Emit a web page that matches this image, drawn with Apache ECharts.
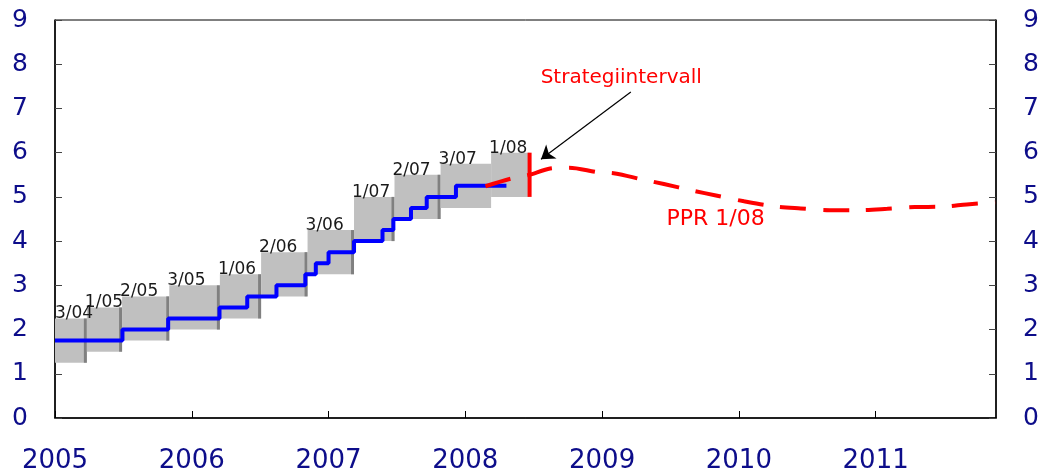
<!DOCTYPE html>
<html>
<head>
<meta charset="utf-8">
<script src="https://cdn.jsdelivr.net/npm/echarts@6/dist/echarts.min.js"></script>
<style>
  html, body { margin: 0; padding: 0; background: #fff; }
  #rateChart { width: 1040px; height: 469px; }
</style>
</head>
<body>
<div id="rateChart"></div>
<script>
// strategiintervaller fra hver pengepolitisk rapport
const boxLabels = ['3/04', '1/05', '2/05', '3/05', '1/06', '2/06', '3/06', '1/07', '2/07', '3/07', '1/08'];
const boxFrom = ['2004-11-01', '2005-03-27', '2005-06-29', '2005-11-02', '2006-03-17', '2006-07-05',
  '2006-11-06', '2007-03-10', '2007-06-26', '2007-10-27', '2008-03-10'];
const boxTo = ['2005-03-27', '2005-06-29', '2005-11-02', '2006-03-17', '2006-07-05', '2006-11-06',
  '2007-03-10', '2007-06-26', '2007-10-27', '2008-03-10', '2008-06-21'];
const boxLow = [1.25, 1.5, 1.75, 2.0, 2.25, 2.75, 3.25, 4.0, 4.5, 4.75, 5.0];
const boxHigh = [2.25, 2.5, 2.75, 3.0, 3.25, 3.75, 4.25, 5.0, 5.5, 5.75, 6.0];
const boxEdge = [1, 1, 1, 1, 1, 1, 1, 1, 1, 0, 0];

// styringsrenten (trappetrinn)
const rateDates = ['2005-01-01', '2005-06-30', '2005-10-30', '2006-03-16', '2006-05-29', '2006-08-15',
  '2006-10-31', '2006-11-28', '2007-01-01', '2007-03-10', '2007-05-25', '2007-06-23', '2007-08-09',
  '2007-09-20', '2007-12-07', '2008-04-20'];
const rateValues = [1.75, 2.0, 2.25, 2.5, 2.75, 3.0, 3.25, 3.5, 3.75, 4.0, 4.25, 4.5, 4.75, 5.0, 5.25, 5.25];

// PPR 1/08 renteprognose
const pprDates = ['2008-02-24', '2008-05-01', '2008-06-21', '2008-08-15', '2008-10-05', '2008-12-20',
  '2009-02-05', '2009-04-15', '2009-06-15', '2009-09-01', '2009-11-01', '2010-01-15', '2010-04-01',
  '2010-06-15', '2010-09-01', '2010-11-15', '2011-02-01', '2011-04-15', '2011-07-01', '2011-09-01',
  '2011-11-16'];
const pprValues = [5.24, 5.41, 5.50, 5.64, 5.66, 5.56, 5.53, 5.40, 5.29, 5.14, 5.03, 4.90, 4.79,
  4.74, 4.70, 4.70, 4.73, 4.77, 4.78, 4.83, 4.88];

// slutten av strategiintervallet 1/08
const strategyEnd = '2008-06-21';
const strategyRange = [5, 6];

const yearTicks = ['2005', '2006', '2007', '2008', '2009', '2010', '2011'];

// dato -> desimalår
function yf(s) {
  const d = new Date(s + 'T00:00:00Z');
  const y = d.getUTCFullYear();
  const a = Date.UTC(y, 0, 1), b = Date.UTC(y + 1, 0, 1);
  return y + (d.getTime() - a) / (b - a);
}

const navy = '#0d0d8a';
const axisFont = '"DejaVu Sans", sans-serif';

const boxData = boxLabels.map((l, i) => [yf(boxFrom[i]), yf(boxTo[i]), boxLow[i], boxHigh[i], boxEdge[i], l]);
const rateData = rateDates.map((d, i) => [yf(d), rateValues[i]]);
const pprData = pprDates.map((d, i) => [yf(d), pprValues[i]]);
const endData = strategyRange.map(v => [yf(strategyEnd), v]);

function renderBox(params, api) {
  const cs = params.coordSys;
  const p0 = api.coord([api.value(0), api.value(3)]);
  const p1 = api.coord([api.value(1), api.value(2)]);
  const left = Math.max(p0[0], cs.x);
  const kids = [{
    type: 'rect',
    shape: { x: left, y: p0[1], width: p1[0] - left, height: p1[1] - p0[1] },
    style: { fill: '#c0c0c0' }
  }];
  if (api.value(4)) {
    kids.push({
      type: 'rect',
      shape: { x: p1[0] - 3, y: p0[1], width: 3, height: p1[1] - p0[1] },
      style: { fill: '#808080' }
    });
  }
  kids.push({
    type: 'text',
    x: params.dataIndex === 0 ? left : left - 2,
    y: p0[1] + 4,
    z2: 100,
    style: {
      text: boxData[params.dataIndex][5],
      fill: '#1a1a1a',
      font: '17px "DejaVu Sans", sans-serif',
      align: 'left',
      verticalAlign: 'bottom'
    }
  });
  return { type: 'group', children: kids };
}

const yAxisBase = {
  type: 'value',
  min: 0,
  max: 9,
  interval: 1,
  axisLine: { show: true, lineStyle: { color: '#000', width: 1.5 } },
  axisTick: { show: true, inside: true, length: 7, lineStyle: { color: '#444' } },
  axisLabel: { margin: 27, color: navy, fontSize: 25, fontFamily: axisFont },
  splitLine: { show: false }
};

const option = {
  animation: false,
  backgroundColor: '#fff',
  grid: {
    left: 55, right: 44, top: 20, bottom: 51, show: true, borderColor: '#000', borderWidth: 1,
    outerBoundsMode: 'none'
  },
  xAxis: {
    type: 'value',
    min: 2005,
    max: 2011.88,
    interval: 1,
    axisLine: { show: true, onZero: false, lineStyle: { color: '#000', width: 1.5 } },
    axisTick: { show: true, inside: true, length: 7, lineStyle: { color: '#000' } },
    axisLabel: {
      margin: 30, color: navy, fontSize: 26, fontFamily: axisFont, showMaxLabel: false,
      formatter: v => yearTicks.indexOf(String(Math.round(v))) >= 0 && Math.abs(v - Math.round(v)) < 1e-6 ? String(Math.round(v)) : ''
    },
    splitLine: { show: false }
  },
  yAxis: [
    Object.assign({}, yAxisBase, { position: 'left' }),
    Object.assign({}, yAxisBase, { position: 'right' })
  ],
  series: [
    {
      type: 'custom',
      z: 1,
      renderItem: renderBox,
      data: boxData,
      silent: true
    },
    {
      type: 'line',
      z: 3,
      step: 'end',
      data: rateData,
      showSymbol: false,
      lineStyle: { color: '#0000ff', width: 4 },
      silent: true
    },
    {
      type: 'line',
      z: 4,
      data: endData,
      showSymbol: false,
      lineStyle: { color: '#ff0000', width: 4 },
      silent: true
    },
    {
      type: 'line',
      z: 4,
      data: pprData,
      smooth: 0.3,
      showSymbol: false,
      lineStyle: { color: '#ff0000', width: 4, type: [26, 17] },
      silent: true,
      markPoint: {
        symbol: 'circle',
        symbolSize: 0,
        silent: true,
        itemStyle: { color: 'transparent' },
        label: { show: true, position: 'inside', color: '#ff0000', fontSize: 20, fontFamily: axisFont },
        data: [
          { coord: [2009.14, 7.70], value: 'Strategiintervall', label: { formatter: 'Strategiintervall' } },
          { coord: [2009.83, 4.49], value: 'PPR 1/08', label: { formatter: 'PPR 1/08', fontSize: 22 } }
        ]
      },
      markLine: {
        silent: true,
        symbol: ['none', 'arrow'],
        symbolSize: 13,
        label: { show: false },
        lineStyle: { color: '#000', width: 1.2, type: 'solid' },
        emphasis: { disabled: true },
        data: [[{ coord: [2009.21, 7.37] }, { coord: [2008.553, 5.85] }]]
      }
    }
  ]
};

const chart = echarts.init(document.getElementById('rateChart'));
chart.setOption(option);
window.onresize = function () {
  chart.resize();
};
</script>
</body>
</html>
